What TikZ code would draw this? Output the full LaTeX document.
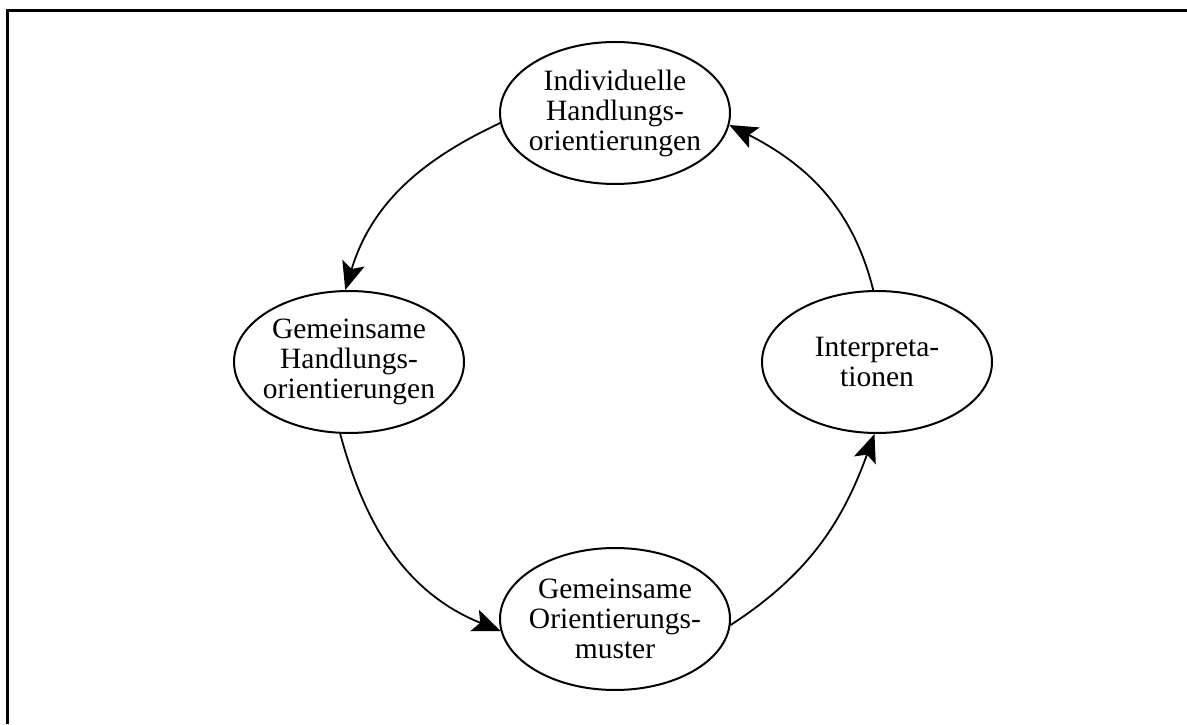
\documentclass[tikz,border=0pt]{standalone}
\usepackage{fontspec}
\setmainfont{Liberation Serif}
\usetikzlibrary{shapes.geometric,arrows.meta}
\begin{document}
\begin{tikzpicture}[x=1pt,y=1pt,
  oval/.style={ellipse,draw,line width=2pt,minimum width=230pt,minimum height=142pt,inner sep=0pt},
  txt/.style={align=center,font=\fontsize{29.5}{30}\selectfont,inner sep=0pt},
  flow/.style={line width=1.8pt,-{Stealth[length=28pt,width=23pt,inset=6pt]}}]
  \useasboundingbox (0,0) rectangle (1187,724);
  % frame
  \draw[line width=3pt] (7.5,0) -- (7.5,713.5) -- (1187,713.5);
  % ellipses
  \node[oval] (top) at (615,611) {};
  \node[oval] (left) at (349,362) {};
  \node[oval] (bottom) at (615,105) {};
  \node[oval] (right) at (877,362) {};
  % texts
  \node[txt] (topText) at (top) {Individuelle\\Handlungs-\\orientierungen};
  \node[txt] (leftText) at (left) {Gemeinsame\\Handlungs-\\orientierungen};
  \node[txt] (bottomText) at (bottom) {Gemeinsame\\Orientierungs-\\muster};
  \node[txt] (rightText) at (right) {Interpreta-\\tionen};
  % cycle of arrows
  \draw[flow] (top.185) to[out=205,in=73] (left.93);
  \draw[flow] (left.263) to[out=285,in=158] (bottom.186);
  \draw[flow] (bottom.357) to[out=33,in=250] (right.268);
  \draw[flow] (right.93) to[out=104,in=333] (top.354);
\end{tikzpicture}
\end{document}
